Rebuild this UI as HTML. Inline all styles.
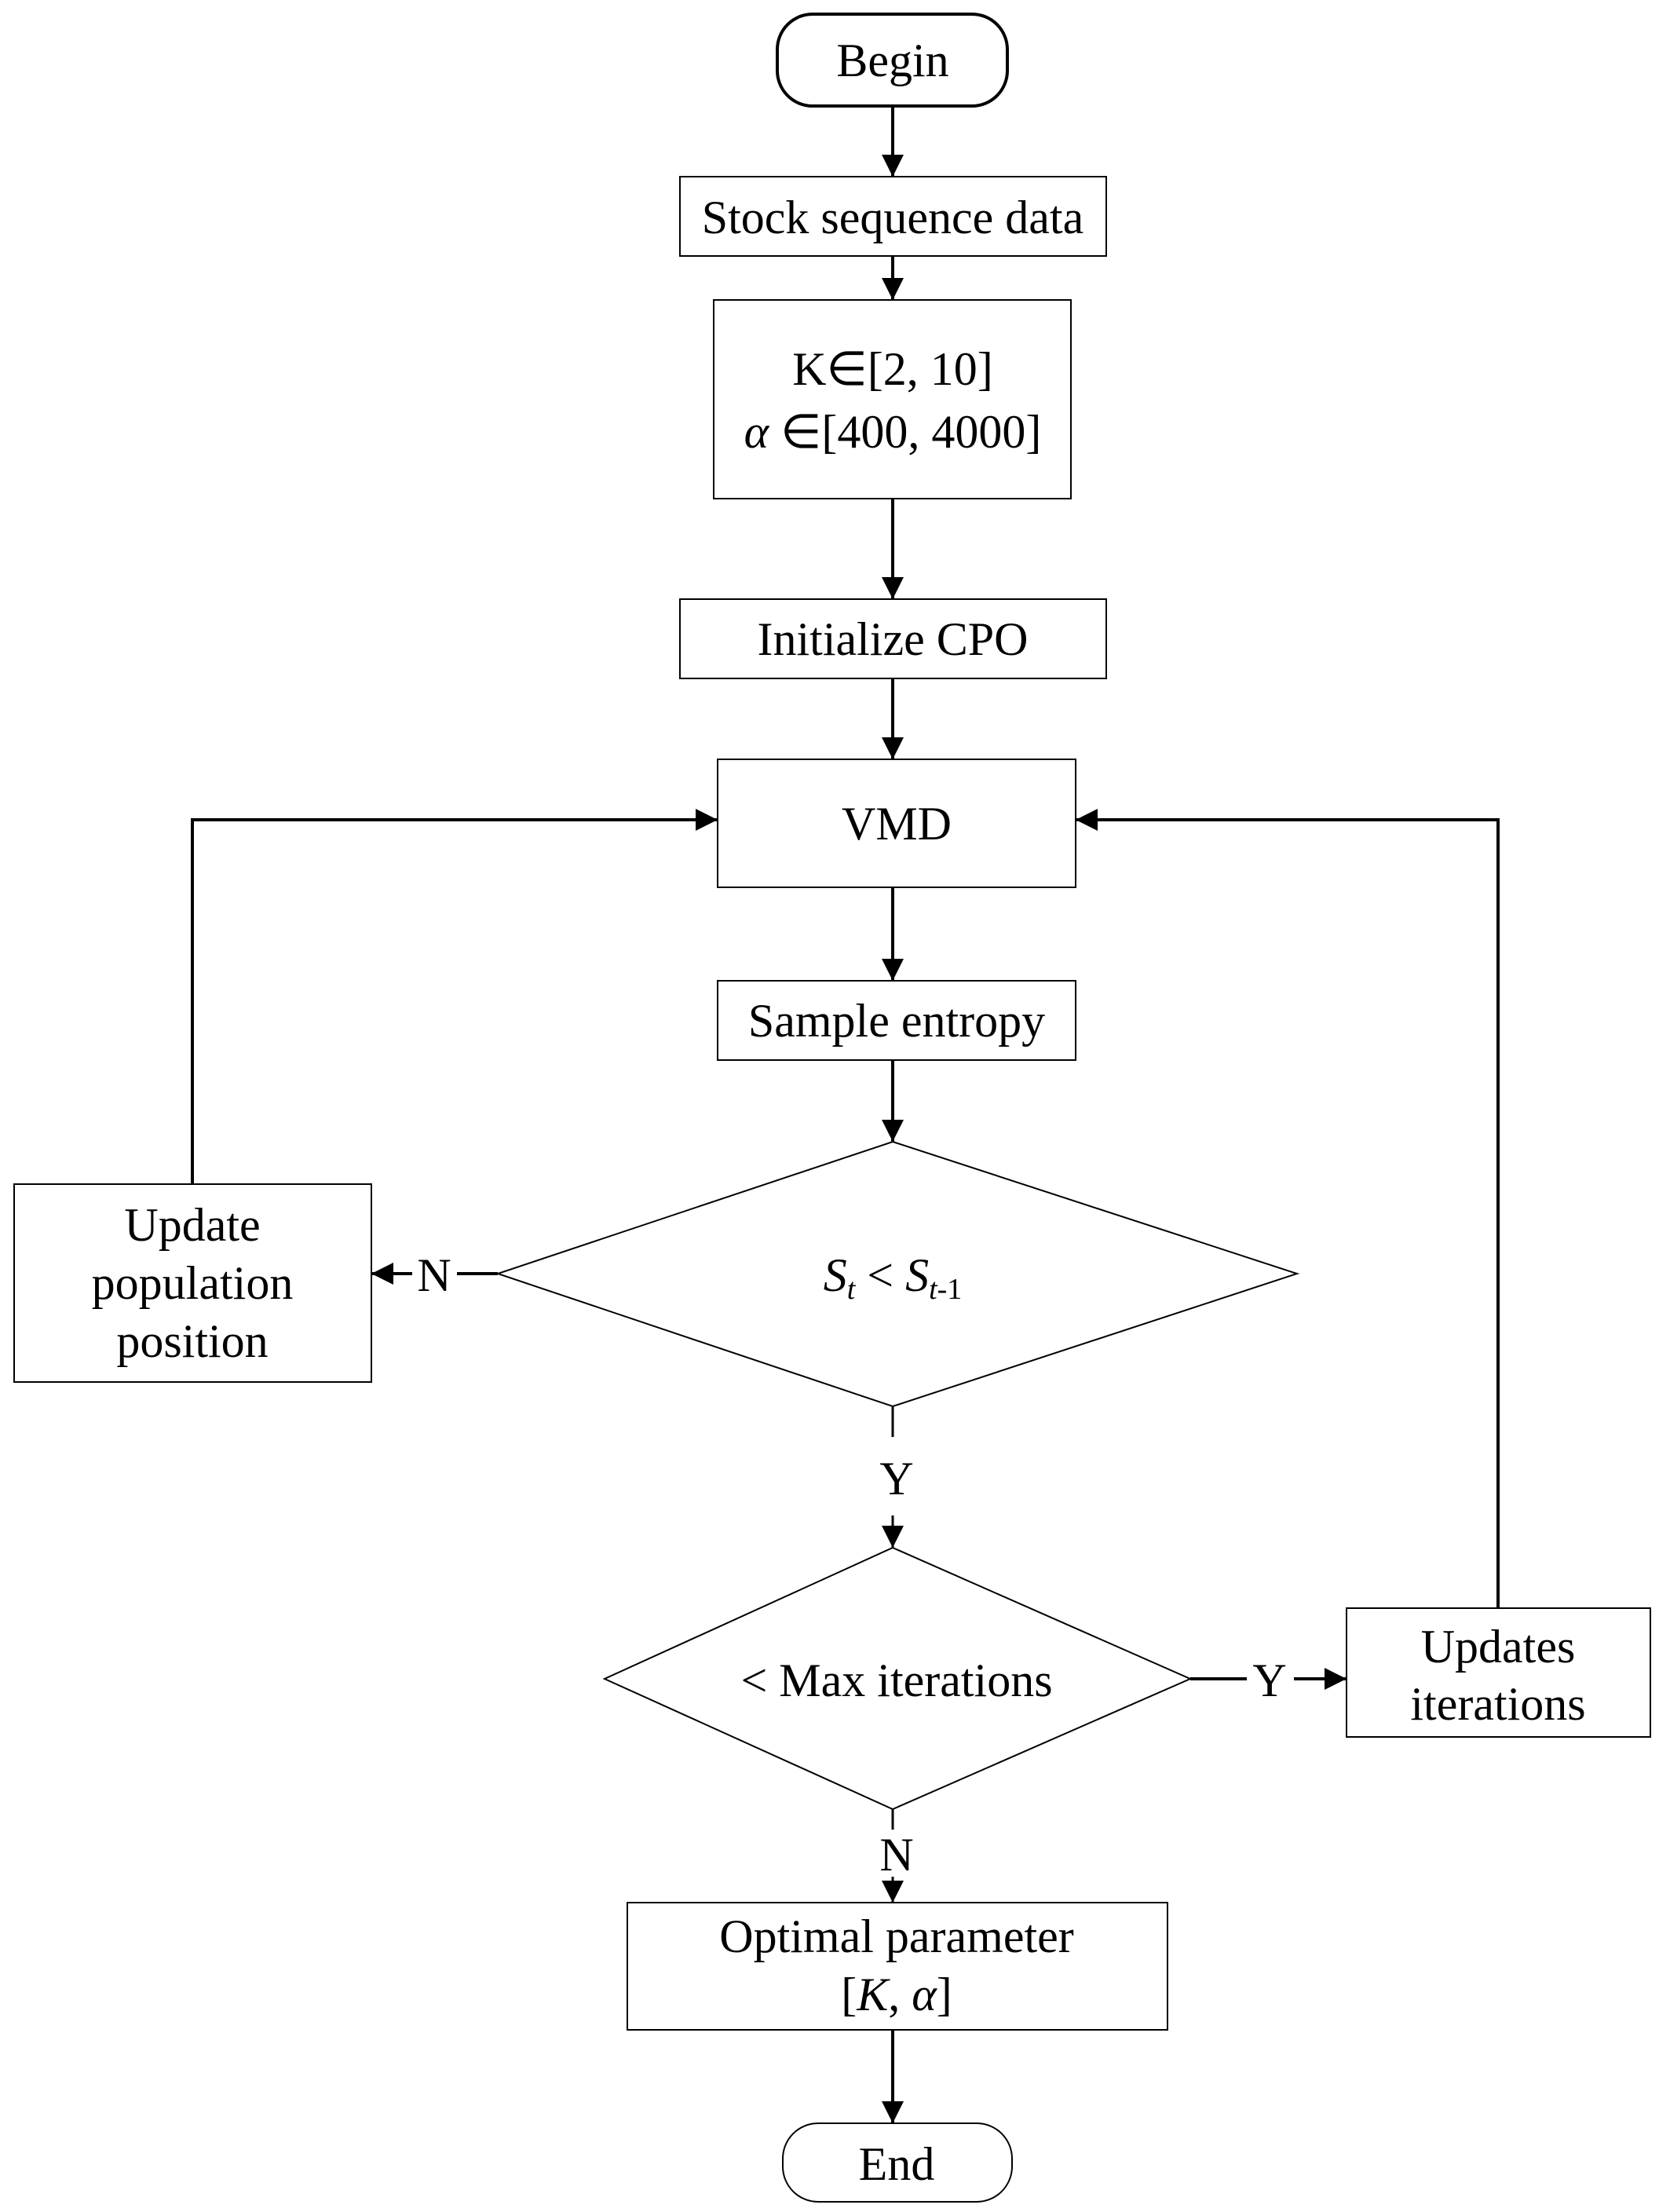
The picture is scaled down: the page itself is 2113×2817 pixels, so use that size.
<!DOCTYPE html>
<html><head><style>body{margin:0;background:#fff}svg{display:block}text{font-family:"Liberation Serif",serif;font-size:60px;fill:#000;text-anchor:middle}</style></head><body>
<svg width="2113" height="2817" xmlns="http://www.w3.org/2000/svg">
<defs>
<marker id="b" markerWidth="28" markerHeight="28" refX="28" refY="14" orient="auto" markerUnits="userSpaceOnUse"><path d="M0,0L28,14L0,28z" fill="#000"/></marker></defs>
<g fill="none" stroke="#000" stroke-width="2">
<rect x="990" y="18" width="293" height="117" rx="45" stroke-width="4"/>
<rect x="866" y="225" width="543" height="101"/>
<rect x="909" y="382" width="455" height="253"/>
<rect x="866" y="763" width="543" height="101"/>
<rect x="914" y="967" width="456" height="163"/>
<rect x="914" y="1249" width="456" height="101"/>
<polygon points="1137,1454 1652,1622 1137,1791 634,1622"/>
<rect x="18" y="1508" width="455" height="252"/>
<polygon points="1137,1971 1516,2138 1137,2304 770,2138"/>
<rect x="1715" y="2048" width="387" height="164"/>
<rect x="799" y="2423" width="688" height="162"/>
<rect x="997" y="2704" width="292" height="100" rx="45"/>
</g>
<g fill="none" stroke="#000" stroke-width="4" marker-end="url(#b)">
<line x1="1137" y1="135" x2="1137" y2="225"/>
<line x1="1137" y1="326" x2="1137" y2="382"/>
<line x1="1137" y1="635" x2="1137" y2="763"/>
<line x1="1137" y1="864" x2="1137" y2="967"/>
<line x1="1137" y1="1130" x2="1137" y2="1249"/>
<line x1="1137" y1="1350" x2="1137" y2="1454"/>
<polyline points="245,1508 245,1044 914,1044"/>
<polyline points="1908,2048 1908,1044 1370,1044"/>
<line x1="1137" y1="1930" x2="1137" y2="1971" stroke-width="3"/>
<line x1="1137" y1="2390" x2="1137" y2="2423" stroke-width="3"/>
<line x1="1137" y1="2585" x2="1137" y2="2704"/>
<line x1="525" y1="1622" x2="473" y2="1622"/>
<line x1="1648" y1="2138" x2="1715" y2="2138"/>
</g>
<g stroke="#000" stroke-width="4">
<line x1="634" y1="1622" x2="582" y2="1622"/>
<line x1="1516" y1="2138" x2="1588" y2="2138"/>
<line x1="1137" y1="1791" x2="1137" y2="1830" stroke-width="3"/>
<line x1="1137" y1="2304" x2="1137" y2="2330" stroke-width="3"/>
</g>
<text x="1137" y="97">Begin</text>
<text x="1137" y="297">Stock sequence data</text>
<text x="1137" y="490">K∈[2, 10]</text>
<text x="1137" y="570"><tspan font-style="italic">α</tspan> ∈[400, 4000]</text>
<text x="1137" y="834">Initialize CPO</text>
<text x="1142" y="1069">VMD</text>
<text x="1142" y="1320">Sample entropy</text>
<text x="1137" y="1644"><tspan font-style="italic">S</tspan><tspan font-style="italic" font-size="38" dy="10">t</tspan><tspan dy="-10"> &lt; </tspan><tspan font-style="italic">S</tspan><tspan font-size="38" dy="10"><tspan font-style="italic">t</tspan>-1</tspan></text>
<text x="245" y="1580">Update</text>
<text x="245" y="1654">population</text>
<text x="245" y="1728">position</text>
<text x="553" y="1644">N</text>
<text x="1142" y="1903">Y</text>
<text x="1142" y="2160">&lt; Max iterations</text>
<text x="1617" y="2160">Y</text>
<text x="1908" y="2117">Updates</text>
<text x="1908" y="2190">iterations</text>
<text x="1142" y="2382">N</text>
<text x="1142" y="2486">Optimal parameter</text>
<text x="1142" y="2560">[<tspan font-style="italic">K</tspan>, <tspan font-style="italic">α</tspan>]</text>
<text x="1142" y="2776">End</text>
</svg>
</body></html>
